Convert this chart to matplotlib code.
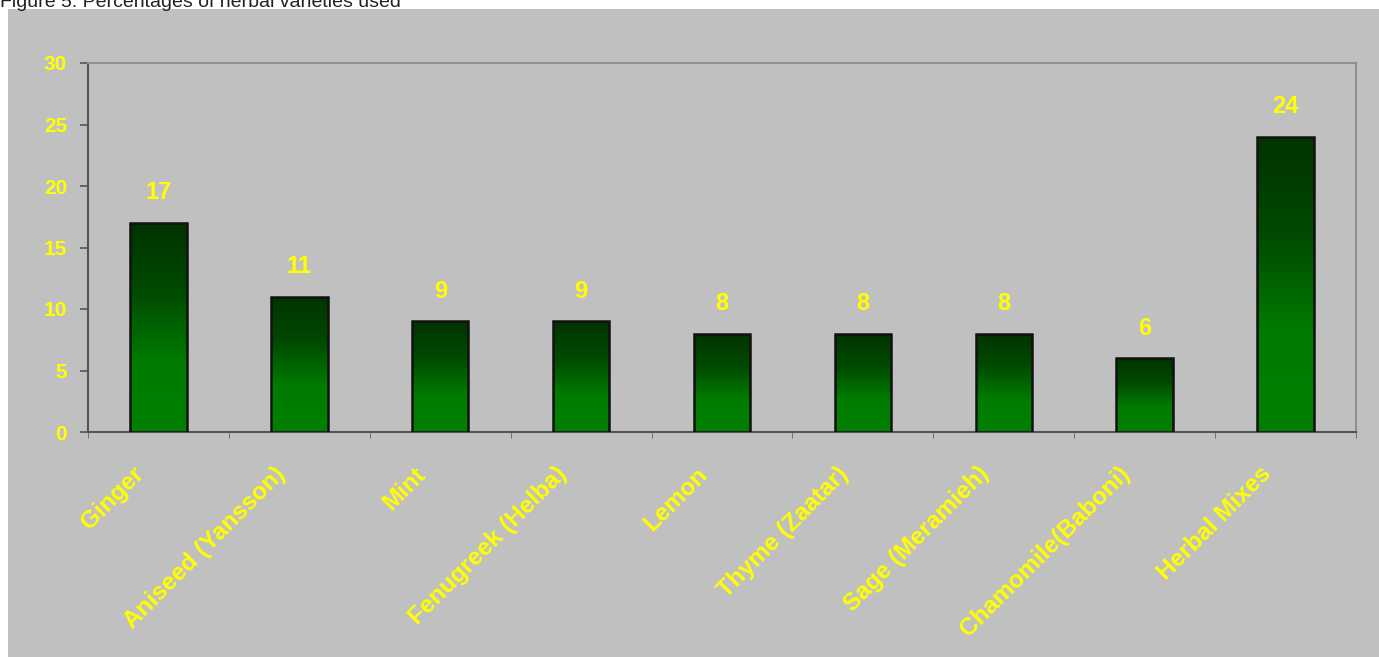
import matplotlib.pyplot as plt
import matplotlib.patches as mpatches
import matplotlib.transforms as mtransforms
import numpy as np
from matplotlib.colors import LinearSegmentedColormap

# herb names and share of use (%)
herbs = ['Ginger', 'Aniseed (Yansson)', 'Mint', 'Fenugreek (Helba)', 'Lemon',
         'Thyme (Zaatar)', 'Sage (Meramieh)', 'Chamomile(Baboni)', 'Herbal Mixes']
percent = [17, 11, 9, 9, 8, 8, 8, 6, 24]
yticks = [0, 5, 10, 15, 20, 25, 30]

plt.rcParams['font.family'] = ['Liberation Sans', 'DejaVu Sans']

fig = plt.figure(figsize=(13.79, 6.57), dpi=100, facecolor='white')
# grey panel behind the chart
fig.patches.append(mpatches.Rectangle((8 / 1379, 0), 1 - 8 / 1379, 1 - 9 / 657,
                                      transform=fig.transFigure, facecolor='#c0c0c0',
                                      edgecolor='none', zorder=-1))
fig.text(0.0, 1 - 7 / 657, 'Figure 5: Percentages of herbal varieties used',
         fontsize=14, color='#222222', va='baseline', ha='left')

ax = fig.add_axes([88 / 1379, 1 - 432 / 657, (1356 - 88) / 1379, (432 - 63) / 657])
ax.set_facecolor('#c0c0c0')

x = np.arange(len(herbs))
width = 0.40
green = LinearSegmentedColormap.from_list('g', ['#008000', '#007c00', '#004a00', '#003300'])
grad = np.linspace(0, 1, 256).reshape(-1, 1)

bars = ax.bar(x, percent, width=width, facecolor='none', edgecolor='#111111',
              linewidth=1.8, zorder=3)
for b in bars:
    x0, y0 = b.get_x(), b.get_y()
    w, h = b.get_width(), b.get_height()
    im = ax.imshow(grad, cmap=green, aspect='auto', origin='lower',
                   extent=(x0, x0 + w, y0, y0 + h), zorder=2)
    im.set_clip_path(b)

for xi, v in zip(x, percent):
    ax.text(xi, v + 1.5, str(v), ha='center', va='bottom', color='#ffff00',
            fontsize=17, fontweight='bold')

ax.set_xlim(-0.5, len(herbs) - 0.5)
ax.set_ylim(0, 30)
ax.set_yticks(yticks)
ax.set_yticklabels([str(t) for t in yticks], color='#ffff00', fontsize=15, fontweight='bold')
ax.tick_params(axis='y', length=6, width=1.2, color='#555555', pad=9)

ax.set_xticks(x)
ax.set_xticklabels(herbs, rotation=45, ha='right', va='top', rotation_mode='anchor',
                   color='#ffff00', fontsize=17.5, fontweight='bold')
ax.tick_params(axis='x', length=0, pad=22)
shift = mtransforms.ScaledTranslation(-26 / 100, 0, fig.dpi_scale_trans)
for lab in ax.get_xticklabels():
    lab.set_transform(lab.get_transform() + shift)
ax.set_xticks(np.arange(-0.5, len(herbs)), minor=True)
ax.tick_params(axis='x', which='minor', length=4, color='#666666')

for side in ['left', 'bottom']:
    ax.spines[side].set_color('#555555')
    ax.spines[side].set_linewidth(1.5)
for side in ['top', 'right']:
    ax.spines[side].set_color('#909090')
    ax.spines[side].set_linewidth(1.5)

fig.savefig('out.png', dpi=100, facecolor='white')
